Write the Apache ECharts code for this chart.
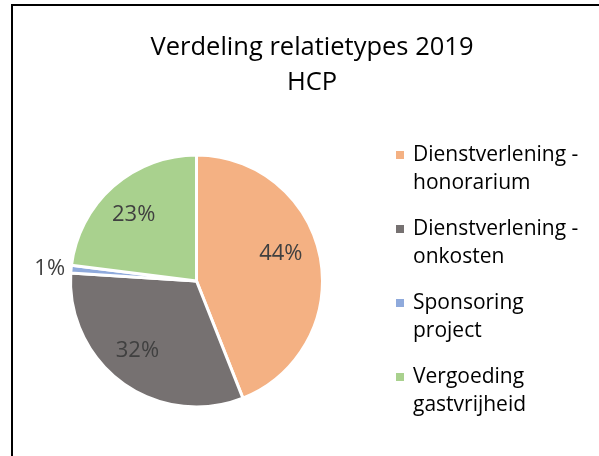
<!DOCTYPE html>
<html>
<head>
<meta charset="utf-8">
<script src="https://cdn.jsdelivr.net/npm/echarts@6/dist/echarts.min.js"></script>
<style>
  html, body { margin: 0; padding: 0; background: #fff; }
  #chart { width: 599px; height: 456px; }
</style>
</head>
<body>
<div id="chart"></div>
<script>
const categories = ['Dienstverlening - honorarium', 'Dienstverlening - onkosten', 'Sponsoring project', 'Vergoeding gastvrijheid'];
const legendLines = [['Dienstverlening -', 'honorarium'], ['Dienstverlening -', 'onkosten'], ['Sponsoring', 'project'], ['Vergoeding', 'gastvrijheid']];
const values = [44, 32, 1, 23];
const colors = ['#F4B183', '#767171', '#8FAADC', '#A9D18E'];
// small nudges so the % labels sit where Excel's best fit put them
const labelNudge = [[-6, -10], [-5, -5], [2, 0], [-2, 3]];

const FONT = '"Open Sans"';

var chart = echarts.init(document.getElementById('chart'));

const pieData = categories.map((name, i) => ({
  name: name,
  value: values[i],
  itemStyle: { color: colors[i] }
}));

// overlay just for labels (so inside labels sit further out like Excel does)
const labelData = categories.map((name, i) => {
  const d = { name: name, value: values[i], label: { offset: labelNudge[i] } };
  if (values[i] < 3) {
    d.label.position = 'outside';
    d.labelLine = { show: false, length: 3, length2: 0 };
  }
  return d;
});

const rich = {
  g: { width: 9 },
  pad: { width: 17 }
};
colors.forEach((c, i) => {
  rich['s' + i] = { width: 8, height: 8, backgroundColor: c };
});

option = {
  animation: false,
  title: {
    text: 'Verdeling relatietypes 2019\nHCP',
    left: 307,
    top: 25,
    textAlign: 'center',
    textStyle: {
      fontFamily: FONT,
      fontSize: 25.5,
      fontWeight: 'normal',
      color: '#000',
      lineHeight: 35
    }
  },
  legend: {
    orient: 'vertical',
    left: 385,
    top: 136,
    itemWidth: 0,
    itemHeight: 0,
    itemGap: 18,
    icon: 'rect',
    selectedMode: false,
    data: categories,
    formatter: function (name) {
      const i = categories.indexOf(name);
      return '{s' + i + '|}{g|}' + legendLines[i][0] + '\n{pad|}' + legendLines[i][1];
    },
    textStyle: {
      fontFamily: FONT,
      fontSize: 21,
      lineHeight: 28,
      color: '#000',
      padding: 0,
      rich: rich
    }
  },
  graphic: [{
    type: 'rect',
    shape: { x: 12, y: 5, width: 800, height: 800 },
    style: { fill: 'none', stroke: '#000', lineWidth: 2 },
    silent: true
  }],
  series: [{
    type: 'pie',
    center: [196.5, 281],
    radius: [0, 126],
    startAngle: 90,
    clockwise: true,
    itemStyle: { borderColor: '#fff', borderWidth: 3 },
    label: { show: false },
    labelLine: { show: false },
    emphasis: { disabled: true },
    data: pieData
  }, {
    type: 'pie',
    center: [196.5, 281],
    radius: [52, 126],
    startAngle: 90,
    clockwise: true,
    silent: true,
    legendHoverLink: false,
    itemStyle: { color: 'rgba(0,0,0,0)' },
    label: {
      show: true,
      position: 'inside',
      formatter: '{d}%',
      fontFamily: FONT,
      fontSize: 22,
      color: '#404040'
    },
    emphasis: { disabled: true },
    data: labelData
  }]
};

chart.setOption(option);
</script>
</body>
</html>
